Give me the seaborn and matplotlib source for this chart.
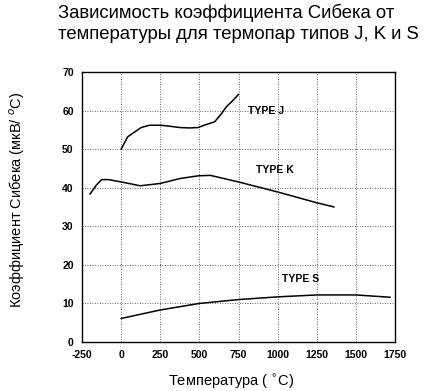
import matplotlib
matplotlib.use("Agg")
import matplotlib.pyplot as plt
import seaborn as sns
import pandas as pd

# Данные
t_j = [0, 42, 74, 128, 181, 250, 299, 374, 440, 491, 545, 598, 641, 673, 716, 750]
s_j = [50.0, 53.2, 54.1, 55.6, 56.2, 56.2, 56.0, 55.6, 55.5, 55.6, 56.4, 57.1, 59.2, 61.0, 62.7, 64.2]

t_k = [-199, -160, -124, -81, 0, 122, 250, 378, 496, 570, 750, 1000, 1250, 1361]
s_k = [38.3, 40.6, 42.1, 42.1, 41.5, 40.5, 41.1, 42.4, 43.1, 43.2, 41.5, 38.9, 36.1, 35.0]

t_s = [0, 250, 500, 750, 1000, 1250, 1500, 1720]
s_s = [6.1, 8.3, 10.0, 11.0, 11.7, 12.2, 12.2, 11.6]

x_ticks = [-250, 0, 250, 500, 750, 1000, 1250, 1500, 1750]
y_ticks = [0, 10, 20, 30, 40, 50, 60, 70]

labels = ["TYPE J", "TYPE K", "TYPE S"]
label_pos = [(810, 59.8), (861, 44.6), (1028, 16.3)]

df = pd.concat([
    pd.DataFrame({"t": t_j, "s": s_j, "type": "J"}),
    pd.DataFrame({"t": t_k, "s": s_k, "type": "K"}),
    pd.DataFrame({"t": t_s, "s": s_s, "type": "S"}),
])

sns.set_style("white")
plt.rcParams["font.family"] = ["Liberation Sans", "DejaVu Sans"]
plt.rcParams["text.color"] = "black"
plt.rcParams["axes.labelcolor"] = "black"
plt.rcParams["xtick.color"] = "black"
plt.rcParams["ytick.color"] = "black"

fig = plt.figure(figsize=(4.25, 3.91), dpi=100)
ax = fig.add_axes([82/425, 1 - 342/391, 313/425, 270/391])

for tp in ["J", "K", "S"]:
    sns.lineplot(data=df[df["type"] == tp], x="t", y="s", color="black",
                 linewidth=1.1, ax=ax, sort=False)

ax.set_xlim(-250, 1750)
ax.set_ylim(0, 70)
ax.set_xticks(x_ticks)
ax.set_yticks(y_ticks)
ax.set_xticklabels([str(v) for v in x_ticks], fontsize=7.5, fontweight="bold")
ax.set_yticklabels([str(v) for v in y_ticks], fontsize=7.5, fontweight="bold")
ax.tick_params(length=0, pad=6)

# пунктирная сетка
for v in x_ticks[1:-1]:
    ax.axvline(v, color="#333333", linestyle=(0, (1, 2)), linewidth=0.6, zorder=0)
for v in y_ticks[1:-1]:
    ax.axhline(v, color="#333333", linestyle=(0, (1, 2)), linewidth=0.6, zorder=0)

for sp in ax.spines.values():
    sp.set_color("black")
    sp.set_linewidth(1.0)

for txt, (x, y) in zip(labels, label_pos):
    ax.text(x, y, txt, fontsize=7.5, fontweight="bold", va="center", ha="left")

ax.set_xlabel("Температура ( $^{\\circ}$C)", fontsize=10.5)
ax.xaxis.set_label_coords(0.475, -0.115)
ax.set_ylabel("Коэффициент Сибека (мкВ/ $^{o}$C)", fontsize=10.5)
ax.yaxis.set_label_coords(-0.175, 0.525)

fig.text(58/425, 1 - 4/391, "Зависимость коэффициента Сибека от\nтемпературы для термопар типов J, K и S",
         fontsize=13.3, va="top", ha="left", linespacing=1.25)

fig.savefig("out.png", dpi=100)
